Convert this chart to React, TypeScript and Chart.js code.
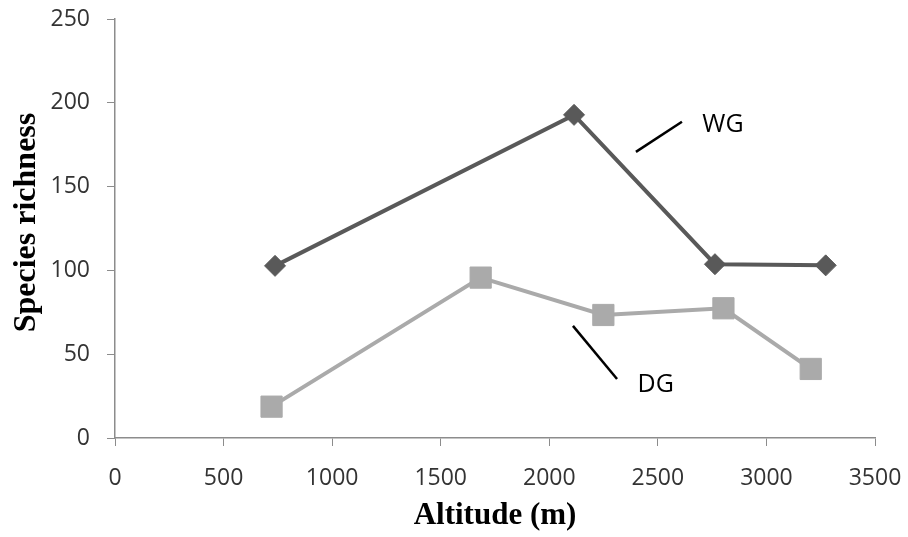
import React, { useEffect, useRef } from "react";
import { Chart, registerables } from "chart.js";

Chart.register(...registerables);

// Data
const wgAltitude = [737, 2114, 2763, 3273];
const wgRichness = [102.7, 192.8, 103.7, 103.0];
const dgAltitude = [721, 1684, 2249, 2802, 3204];
const dgRichness = [18.7, 95.7, 73.4, 77.4, 41.2];

const xTicks = [0, 500, 1000, 1500, 2000, 2500, 3000, 3500];
const yTicks = [0, 50, 100, 150, 200, 250];

const xTitle = "Altitude (m)";
const yTitle = "Species richness";

// annotation labels (data coords)
const labelNames = ["WG", "DG"];
const labelPos = [
  [2800, 187],
  [2490, 31.5],
];
const leaderLines = [
  [2399, 170.7, 2611, 188.7],
  [2109, 66.9, 2312, 35.2],
];

const TICK_FONT = "'Open Sans', 'DejaVu Sans', sans-serif";
const TITLE_FONT = "'Liberation Serif', 'DejaVu Serif', serif";

const annotPlugin = {
  id: "annot",
  afterDraw(chart: any) {
    const { ctx, scales } = chart;
    const xs = scales.x;
    const ys = scales.y;
    ctx.save();
    ctx.strokeStyle = "#000";
    ctx.lineWidth = 2.5;
    leaderLines.forEach((l) => {
      ctx.beginPath();
      ctx.moveTo(xs.getPixelForValue(l[0]), ys.getPixelForValue(l[1]));
      ctx.lineTo(xs.getPixelForValue(l[2]), ys.getPixelForValue(l[3]));
      ctx.stroke();
    });
    ctx.fillStyle = "#000";
    ctx.font = `25px ${TICK_FONT}`;
    ctx.textAlign = "center";
    ctx.textBaseline = "middle";
    labelNames.forEach((n, i) => {
      ctx.fillText(n, xs.getPixelForValue(labelPos[i][0]), ys.getPixelForValue(labelPos[i][1]));
    });
    // axis titles
    ctx.font = `bold 31px ${TITLE_FONT}`;
    ctx.fillText(xTitle, (xs.left + xs.right) / 2, 516);
    ctx.font = `bold 32px ${TITLE_FONT}`;
    ctx.translate(27, (ys.top + ys.bottom) / 2 - 6);
    ctx.rotate(-Math.PI / 2);
    ctx.fillText(yTitle, 0, 0);
    ctx.restore();
  },
};

export default function App() {
  const ref = useRef<HTMLCanvasElement>(null);
  useEffect(() => {
    document.body.style.margin = "0";
    const chart = new Chart(ref.current!, {
      type: "line",
      data: {
        datasets: [
          {
            label: "WG",
            data: wgAltitude.map((x, i) => ({ x, y: wgRichness[i] })),
            borderColor: "#595959",
            backgroundColor: "#595959",
            borderWidth: 4,
            pointStyle: "rectRot",
            pointRadius: 10.5,
            pointBorderWidth: 1,
            pointBackgroundColor: "#595959",
            pointBorderColor: "#595959",
          },
          {
            label: "DG",
            data: dgAltitude.map((x, i) => ({ x, y: dgRichness[i] })),
            borderColor: "#aaaaaa",
            backgroundColor: "#aaaaaa",
            borderWidth: 4,
            pointStyle: "rect",
            pointRadius: 15,
            pointBorderWidth: 1,
            pointBackgroundColor: "#aaaaaa",
            pointBorderColor: "#aaaaaa",
          },
        ],
      },
      options: {
        responsive: false,
        animation: false,
        layout: { padding: { top: 19, right: 33, left: 0, bottom: 0 } },
        plugins: { legend: { display: false }, tooltip: { enabled: false } },
        scales: {
          x: {
            type: "linear",
            min: 0,
            max: 3500,
            afterBuildTicks: (s: any) => {
              s.ticks = xTicks.map((v) => ({ value: v }));
            },
            afterFit: (s: any) => {
              s.height = 99;
              s.paddingLeft = 0;
              s.paddingRight = 0;
              s.paddingTop = 0;
              s.paddingBottom = 0;
            },
            grid: { drawOnChartArea: false, drawTicks: true, tickLength: 8, color: "#8c8c8c" },
            border: { display: true, color: "#8c8c8c", width: 1.5 },
            ticks: {
              color: "#333",
              font: { family: TICK_FONT, size: 23 },
              padding: 19,
              maxRotation: 0,
              callback: (v: any) => String(v),
            },
          },
          y: {
            type: "linear",
            min: 0,
            max: 250,
            afterBuildTicks: (s: any) => {
              s.ticks = yTicks.map((v) => ({ value: v }));
            },
            afterFit: (s: any) => {
              s.width = 115;
              s.paddingLeft = 0;
              s.paddingRight = 0;
              s.paddingTop = 0;
              s.paddingBottom = 0;
            },
            grid: { drawOnChartArea: false, drawTicks: true, tickLength: 8, color: "#8c8c8c" },
            border: { display: true, color: "#8c8c8c", width: 1.5 },
            ticks: {
              color: "#333",
              font: { family: TICK_FONT, size: 23 },
              padding: 17,
              callback: (v: any) => String(v),
            },
          },
        },
      },
      plugins: [annotPlugin],
    } as any);
    return () => chart.destroy();
  }, []);
  return (
    <div style={{ width: 908, height: 537 }}>
      <canvas ref={ref} width={908} height={537} style={{ display: "block" }} />
    </div>
  );
}
